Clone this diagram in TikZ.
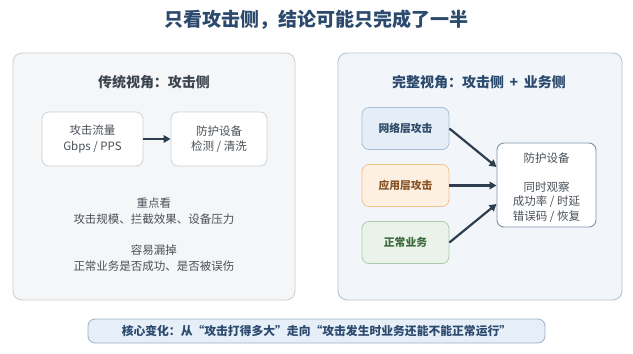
\documentclass[tikz,border=0pt]{standalone}
\usepackage{fontspec}
\setmainfont{Noto Sans CJK SC}
\usetikzlibrary{arrows.meta}
\definecolor{titleblue}{HTML}{2C4A6E}
\definecolor{darkgray}{HTML}{3D4650}
\definecolor{bodytxt}{HTML}{4A5159}
\definecolor{arrowc}{HTML}{2E3D4F}
\definecolor{lpanelfill}{HTML}{F5F6F8}
\definecolor{lpaneldraw}{HTML}{C9CDD3}
\definecolor{rpanelfill}{HTML}{F2F6FA}
\definecolor{rpaneldraw}{HTML}{B3C2D2}
\definecolor{boxdraw}{HTML}{CDD2D8}
\definecolor{netfill}{HTML}{E5EEF6}
\definecolor{netdraw}{HTML}{A8BDD2}
\definecolor{nettxt}{HTML}{2F4B69}
\definecolor{appfill}{HTML}{FDF0E2}
\definecolor{appdraw}{HTML}{F0C28E}
\definecolor{apptxt}{HTML}{8A5526}
\definecolor{normfill}{HTML}{EAF3EA}
\definecolor{normdraw}{HTML}{ADCAAD}
\definecolor{normtxt}{HTML}{3B6A3B}
\definecolor{devdraw}{HTML}{7F93A8}
\definecolor{bannerfill}{HTML}{E6EEF7}
\definecolor{bannerdraw}{HTML}{9DB1C6}
\begin{document}
\begin{tikzpicture}[x=1pt,y=-1pt,
  panel/.style={rounded corners=9pt, line width=0.8pt},
  wbox/.style={draw=boxdraw, fill=white, rounded corners=7pt, line width=0.8pt, align=center, font=\fontsize{11.5}{15.5}\selectfont, text=bodytxt, inner sep=0pt},
  cbox/.style={rounded corners=7pt, line width=0.8pt, align=center, font=\fontsize{10.8}{13}\selectfont\bfseries, inner sep=0pt, minimum width=87pt, minimum height=42pt},
  lbl/.style={align=center, font=\fontsize{11.5}{16}\selectfont, text=bodytxt},
  arr/.style={draw=arrowc, line width=2.2pt, -{Triangle[length=7pt,width=7.5pt]}}]
\useasboundingbox (0,0) rectangle (633,354);
\fill[white] (0,0) rectangle (633,354);
\node[font=\fontsize{19}{22}\selectfont\bfseries, text=titleblue] (title) at (316.5,20) {只看攻击侧，结论可能只完成了一半};
% left panel
\draw[panel, draw=lpaneldraw, fill=lpanelfill] (13,53) rectangle (295,300);
\node[font=\fontsize{14}{16}\selectfont\bfseries, text=darkgray] (ltitle) at (154,82) {传统视角：攻击侧};
\node[wbox, minimum width=101pt, minimum height=54pt] (traffic) at (92.5,139) {攻击流量\\Gbps / PPS};
\node[wbox, minimum width=96pt, minimum height=54pt] (ldev) at (219,139) {防护设备\\检测 / 清洗};
\draw[arr] (traffic) -- (ldev);
\node[lbl] (focus) at (154,211) {重点看\\攻击规模、拦截效果、设备压力};
\node[lbl] (miss) at (154,258) {容易漏掉\\正常业务是否成功、是否被误伤};
% right panel
\draw[panel, draw=rpaneldraw, fill=rpanelfill] (338,53) rectangle (622,300);
\node[font=\fontsize{14}{16}\selectfont\bfseries, text=titleblue] (rtitle) at (479,82) {完整视角：攻击侧 \,+\, 业务侧};
\node[cbox, draw=netdraw, fill=netfill, text=nettxt] (net) at (405.5,128.5) {网络层攻击};
\node[cbox, draw=appdraw, fill=appfill, text=apptxt] (app) at (405.5,185.5) {应用层攻击};
\node[cbox, draw=normdraw, fill=normfill, text=normtxt] (norm) at (405.5,242.5) {正常业务};
\node[draw=devdraw, fill=white, rounded corners=7pt, line width=0.9pt, minimum width=99pt, minimum height=84pt, inner sep=0pt] (rdev) at (546.5,185) {};
\node[lbl, font=\fontsize{11.5}{14.5}\selectfont] (rdevt1) at (546.5,158) {防护设备};
\node[lbl, font=\fontsize{11.5}{14.5}\selectfont] (rdevt2) at (546.5,202) {同时观察\\成功率 / 时延\\错误码 / 恢复};
\draw[arr] (net.east) -- (rdev.west |- 0,167);
\draw[arr] (app.east) -- (rdev.west |- 0,185.5);
\draw[arr] (norm.east) -- (rdev.west |- 0,204);
% banner
\node[draw=bannerdraw, fill=bannerfill, rounded corners=7pt, line width=0.8pt, minimum width=457pt, minimum height=24pt, inner sep=0pt, font=\fontsize{11.8}{14}\selectfont\bfseries, text=titleblue] (banner) at (316.5,331) {核心变化：从“攻击打得多大”走向“攻击发生时业务还能不能正常运行”};
\end{tikzpicture}
\end{document}
